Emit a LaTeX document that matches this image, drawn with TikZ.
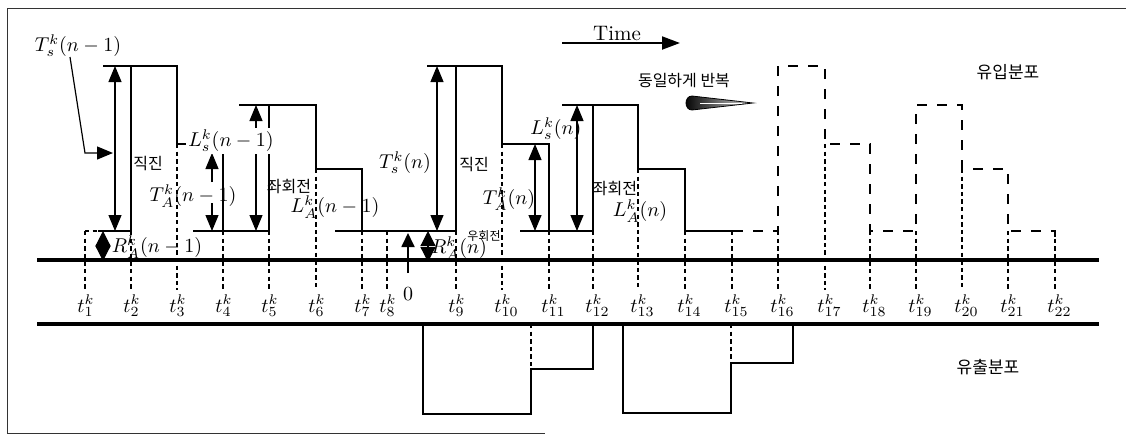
\documentclass[tikz,border=0pt]{standalone}
\usepackage{fontspec}
\usetikzlibrary{arrows.meta}
\newfontfamily\kr{Noto Sans CJK KR}
\begin{document}
\begin{tikzpicture}[x=0.5pt,y=-0.5pt,
  inflow/.style={line width=1.2pt, line join=miter},
  outflow/.style={line width=1.1pt, line join=miter},
  tickline/.style={line width=0.85pt, dash pattern=on 2.2pt off 1.6pt},
  repline/.style={line width=1.2pt, dash pattern=on 5pt off 5pt, line join=miter},
  axisline/.style={line width=2pt},
  frameline/.style={line width=0.5pt, black!80},
  dimarrow/.style={line width=0.6pt, {Triangle[length=8pt,width=6.5pt]}-{Triangle[length=8pt,width=6.5pt]}},
  onearrow/.style={line width=0.6pt, -{Triangle[length=8pt,width=6.5pt]}},
  diamarrow/.style={line width=0.6pt, {Triangle[length=7.5pt,width=7.5pt]}-{Triangle[length=7.5pt,width=7.5pt]}},
  lab/.style={font=\fontsize{10}{12}\selectfont, inner sep=1pt},
  krlab/.style={font=\fontsize{8}{10}\selectfont\kr, inner sep=1pt},
  krbig/.style={font=\fontsize{8.5}{10}\selectfont\kr, inner sep=1pt},
  krsmall/.style={font=\fontsize{6}{7}\selectfont\kr, inner sep=1pt},
  tlab/.style={font=\fontsize{10}{12}\selectfont, anchor=base west, inner sep=0pt},
]
\useasboundingbox (0,0) rectangle (1126,436);

% frame
\draw[frameline] (1126,8) -- (7,8) -- (7,433) -- (545,433);

% axes
\coordinate (a1) at (37,260);
\coordinate (a2) at (1099,260);
\coordinate (b1) at (37,324);
\coordinate (b2) at (1099,324);
\draw[axisline] (a1) -- (a2);
\draw[axisline] (b1) -- (b2);

% tick dashed lines and labels
\foreach \x/\lev/\i in {85/231/1,131/231/2,177/144/3,223/231/4,269/231/5,316/169/6,362/231/7,387/231/8,456/231/9,
                        502/144/10,549/231/11,593/231/12,638/169/13,685/231/14,732/231/15,778/231/16,
                        825/144/17,870/231/18,916/231/19,962/169/20,1008/231/21,1055/231/22}{
  \draw[tickline] (\x,\lev) -- (\x,290);
  \node[tlab] (t\i) at (\x-8,312) {$t^{k}_{\i}$};
}

% t1 corner
\draw[tickline] (85,231) -- (98,231);
\draw[inflow] (98,231) -- (131,231);

% inflow, solid part
\draw[inflow] (131,231) -- (131,66) -- (177,66) -- (177,144) -- (223,144) -- (223,231) -- (269,231)
  -- (269,105) -- (316,105) -- (316,169) -- (362,169) -- (362,231);
\draw[inflow] (335,231) -- (456,231) -- (456,66) -- (502,66) -- (502,144) -- (549,144) -- (549,231)
  -- (593,231) -- (593,105) -- (638,105) -- (638,169) -- (685,169) -- (685,231) -- (733,231);

% extension lines
\draw[inflow] (103,66) -- (131,66);
\draw[inflow] (193,231) -- (223,231);
\draw[inflow] (239,105) -- (269,105);
\draw[inflow] (427,66) -- (456,66);
\draw[inflow] (520,231) -- (549,231);
\draw[inflow] (562,105) -- (593,105);

% inflow, repeated (dashed)
\draw[repline] (733,231) -- (778,231) -- (778,66) -- (825,66) -- (825,144) -- (870,144) -- (870,231)
  -- (916,231) -- (916,105) -- (962,105) -- (962,169) -- (1008,169) -- (1008,231) -- (1055,231) -- (1055,240);

% outflow
\draw[outflow] (423,324) -- (423,414) -- (531,414) -- (531,369) -- (593,369) -- (593,324);
\draw[tickline] (531,324) -- (531,369);
\draw[outflow] (623,324) -- (623,413) -- (731,413) -- (731,363) -- (793,363) -- (793,324);
\draw[tickline] (731,324) -- (731,363);

% dimension arrows
\coordinate (d1a) at (115,66);   \coordinate (d1b) at (115,231);
\draw[dimarrow] (d1a) -- (d1b);
\coordinate (d2a) at (256,105);  \coordinate (d2b) at (256,231);
\draw[dimarrow] (d2a) -- (d2b);
\coordinate (d3a) at (212,182);  \coordinate (d3b) at (212,153);
\draw[onearrow] (d3a) -- (d3b);
\coordinate (d4a) at (212,203);  \coordinate (d4b) at (212,231);
\draw[onearrow] (d4a) -- (d4b);
\coordinate (d5a) at (437,66);   \coordinate (d5b) at (437,231);
\draw[dimarrow] (d5a) -- (d5b);
\coordinate (d6a) at (535,144);  \coordinate (d6b) at (535,231);
\draw[dimarrow] (d6a) -- (d6b);
\coordinate (d7a) at (577,105);  \coordinate (d7b) at (577,231);
\draw[dimarrow] (d7a) -- (d7b);
\coordinate (r1a) at (103,231);  \coordinate (r1b) at (103,261);
\draw[diamarrow] (r1a) -- (r1b);
\coordinate (r2a) at (428,231);  \coordinate (r2b) at (428,262);
\draw[diamarrow] (r2a) -- (r2b);
\coordinate (z0a) at (408,273);  \coordinate (z0b) at (408,233);
\draw[line width=0.9pt, -{Triangle[length=7pt,width=6.5pt]}] (z0a) -- (z0b);

% labels
\node[lab] (Ts1) at (78,46) {$T^{k}_{s}(n-1)$};
\coordinate (p0) at (70,57);
\coordinate (p1) at (85,153);
\coordinate (p2) at (113,153);
\draw[onearrow] (p0) -- (p1) -- (p2);
\node[lab, fill=white] (Ls1) at (231,141) {$L^{k}_{s}(n-1)$};
\node[lab] (TA1) at (193,196) {$T^{k}_{A}(n-1)$};
\node[lab] (RA1) at (157,247) {$R^{k}_{A}(n-1)$};
\node[lab] (LA1) at (335,207) {$L^{k}_{A}(n-1)$};
\node[lab] (Ts2) at (405,163) {$T^{k}_{s}(n)$};
\node[lab] (TA2) at (509,199) {$T^{k}_{A}(n)$};
\node[lab] (Ls2) at (556,129) {$L^{k}_{s}(n)$};
\node[lab] (RA2) at (459,248) {$R^{k}_{A}(n)$};
\node[lab] (LA2) at (640,211) {$L^{k}_{A}(n)$};
\node[lab] (zero) at (408,294) {$0$};

\node[krlab] (k1) at (148,163) {직진};
\node[krlab] (k2) at (474,164) {직진};
\node[krlab] (k3) at (289,186) {좌회전};
\node[krlab] (k4) at (615,188) {좌회전};
\node[krsmall] (k5) at (484,236) {우회전};
\node[krlab] (k6) at (684,80) {동일하게 반복};
\node[krbig] (k7) at (1008,72) {유입분포};
\node[krbig] (k8) at (988,367) {유출분포};

% time arrow
\node[font=\fontsize{10.5}{12}\selectfont, inner sep=1pt] (time) at (617,33) {Time};
\coordinate (ta) at (562,43);
\coordinate (tb) at (680,43);
\draw[line width=1pt, -{Triangle[length=9pt,width=6.5pt]}] (ta) -- (tb);

% cone arrow
\shade[left color=black, right color=black!15]
  (692,96) -- (753,103) -- (692,110) .. controls (684,110) and (684,96) .. (692,96) -- cycle;
\draw[line width=0.4pt] (692,96) -- (753,103) -- (692,110) .. controls (684,110) and (684,96) .. (692,96) -- cycle;
\draw[line width=0.3pt, white] (700,103) -- (742,103);
\end{tikzpicture}
\end{document}
